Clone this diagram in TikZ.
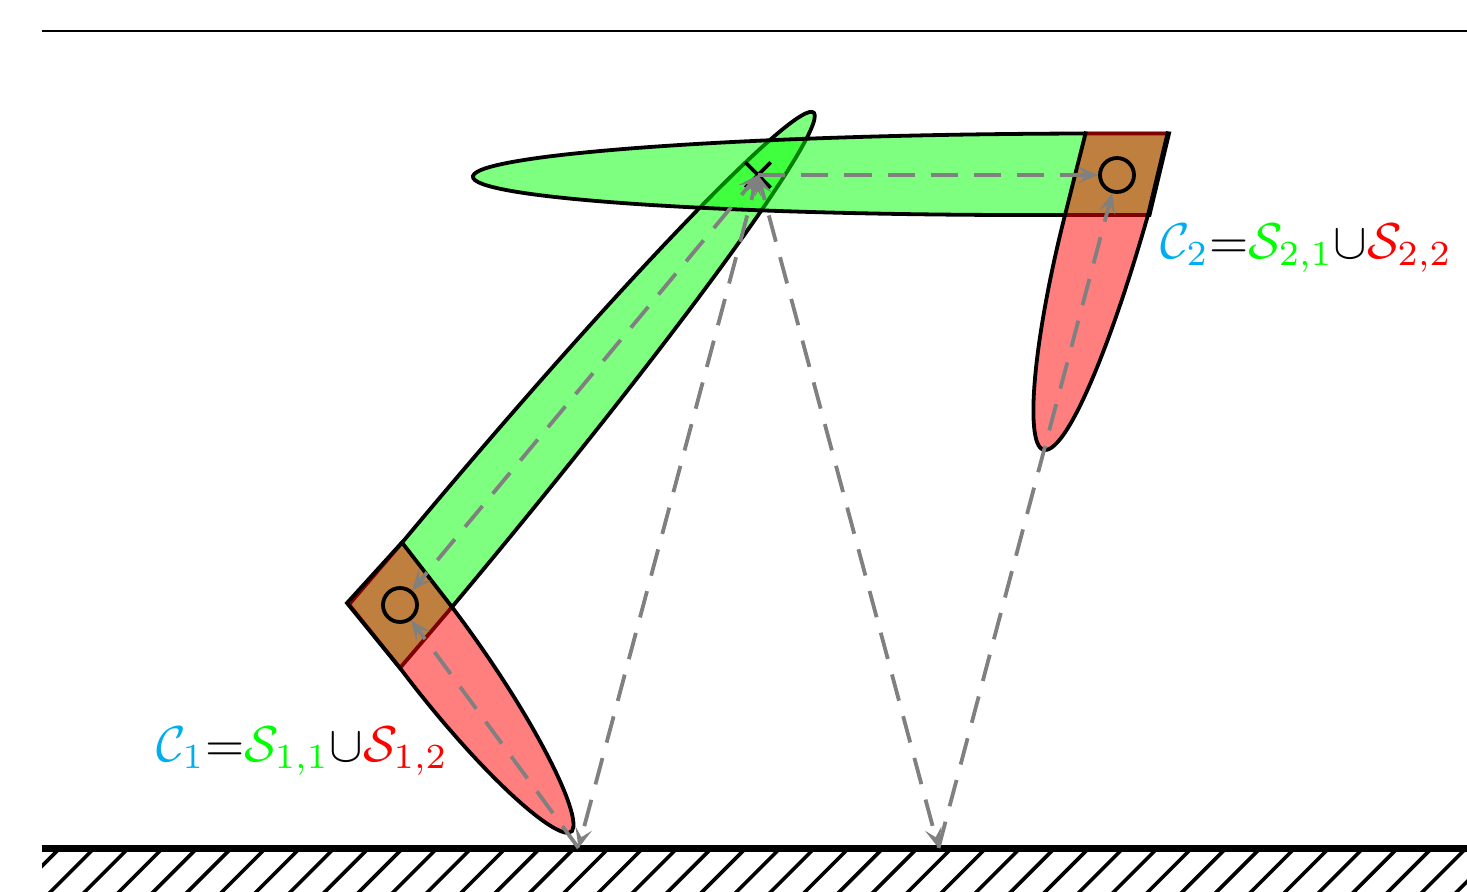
\documentclass[tikz,border=0pt]{standalone}
\usetikzlibrary{arrows.meta, shapes.misc}
\definecolor{labelcyan}{RGB}{0,174,239}

\begin{document}
\begin{tikzpicture}[
    x=0.25pt, y=-0.25pt,
    greenpart/.style={draw=black, line width=0.95pt, fill=green, fill opacity=0.5},
    redpart/.style={draw=black, line width=0.95pt, fill=red, fill opacity=0.5},
    joint/.style={draw, line width=0.95pt, circle, minimum size=8.5pt, inner sep=0pt},
    crossmark/.style={draw, line width=0.95pt, cross out, minimum size=5.4pt, inner sep=0pt},
    ray/.style={-{Stealth[length=5pt, width=4.2pt, inset=2.2pt]}, line width=0.95pt, gray, dash pattern=on 6.8pt off 4pt},
    raytwo/.style={ray, {Stealth[length=5pt, width=4.2pt, inset=2.2pt]}-{Stealth[length=5pt, width=4.2pt, inset=2.2pt]}, dash phase=2.8pt},
    hatch/.style={line width=0.9pt, black},
    label/.style={scale=1.26, inner sep=0pt, anchor=base west}
]
    \useasboundingbox (0, 0) rectangle (1467, 891);

    % --- top rule ---
    \coordinate (rule_l) at (42, 31);
    \coordinate (rule_r) at (1467, 31);
    \draw[line width=0.3pt] (rule_l) -- (rule_r);

    % --- lower link ---
    \draw[greenpart] (403, 541.5) .. controls (616, 286) and (800.5, 95) .. (814, 113)
        .. controls (827.5, 131) and (665.5, 352) .. (452, 607)
        -- (400, 668) -- (349, 604.5) -- cycle;
    \draw[redpart] (452, 607) .. controls (532, 713) and (583, 815) .. (572, 831)
        .. controls (560, 845) and (480, 774) .. (400, 668)
        -- (347, 603) -- (402, 542.5) -- cycle;

    % --- upper link ---
    \draw[greenpart] (1086, 133.5) .. controls (753.2, 134.1) and (478.8, 153.4) .. (473, 176)
        .. controls (467.2, 198.6) and (732.2, 216.1) .. (1065, 215)
        -- (1149.5, 215) -- (1169, 133.5) -- cycle;
    % left open along the top, the fill closes it
    \draw[redpart] (1168, 131.5) -- (1148, 215)
        .. controls (1111, 345) and (1068, 450) .. (1045, 450)
        .. controls (1024, 450) and (1032, 345) .. (1065, 215)
        -- (1086, 131.5);

    % --- joints and target ---
    \node[joint] (joint_a) at (400, 605) {};
    \node[joint] (joint_b) at (1117, 175) {};
    \node[crossmark] (target) at (758, 175) {};

    % --- ground ---
    \begin{scope}
        \clip (42, 848) rectangle (1467, 891);
        \foreach \hx in {0,...,43}
            \draw[hatch] ({60 + 34.3*\hx}, 848) -- ++(-50, 50);
    \end{scope}
    \coordinate (ground_l) at (42, 848.5);
    \coordinate (ground_r) at (1467, 848.5);
    \draw[line width=1.75pt] (ground_l) -- (ground_r);

    % --- reflection points and rays ---
    \coordinate (hit_a) at (578.5, 848);
    \coordinate (hit_b) at (938.5, 848);
    \draw[ray] (target.center) -- (joint_b);
    \draw[raytwo] (target.center) -- (joint_a);
    \draw[raytwo] (target.center) -- (hit_a);
    \draw[raytwo] (target.center) -- (hit_b);
    \draw[ray] (hit_a) -- (joint_a);
    \draw[ray] (hit_b) -- (joint_b);

    % --- labels ---
    \node[label] (label_a) at (155, 761) {$\textcolor{labelcyan}{\mathcal{C}_1}{=}\textcolor{green}{\mathcal{S}_{1,1}}{\cup}\textcolor{red}{\mathcal{S}_{1,2}}$};
    \node[label] (label_b) at (1159, 258) {$\textcolor{labelcyan}{\mathcal{C}_2}{=}\textcolor{green}{\mathcal{S}_{2,1}}{\cup}\textcolor{red}{\mathcal{S}_{2,2}}$};
\end{tikzpicture}
\end{document}
